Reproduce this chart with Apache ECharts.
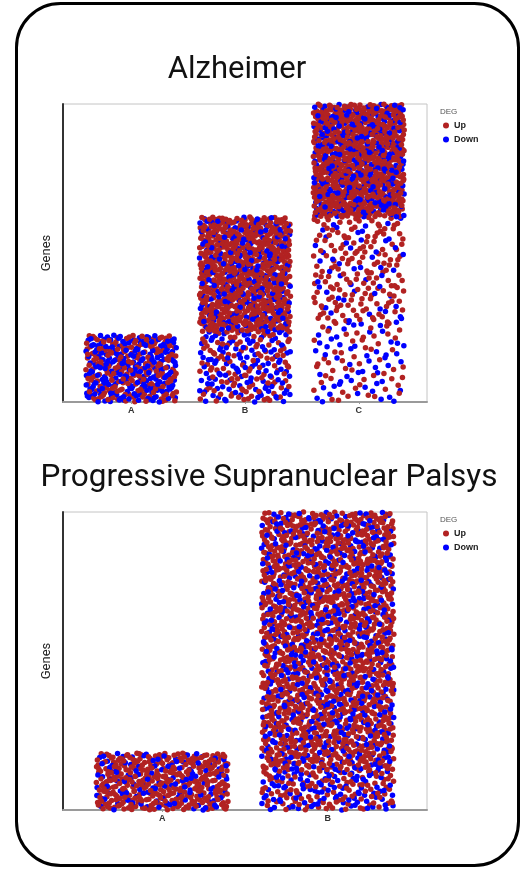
<!DOCTYPE html>
<html>
<head>
<meta charset="utf-8">
<script src="https://cdn.jsdelivr.net/npm/echarts@6/dist/echarts.min.js"></script>
<style>
html,body{margin:0;padding:0;background:#fff;}
#chart{width:523px;height:874px;}
</style>
</head>
<body>
<div id="chart"></div>
<script>
// ---- Data ----
// Titles / labels
const titles = ['Alzheimer', 'Progressive Supranuclear Palsys'];
const alzCategories = ['A', 'B', 'C'];
const pspCategories = ['A', 'B'];
const degLevels = ['Up', 'Down'];
// Each band: [yLow, yHigh, nUp, nDown]  (y in "Genes" units, 0..298 full axis)
const alzA = [[0, 67, 190, 210]];
const alzB = [[0, 70, 110, 115], [70, 185, 620, 180]];
const alzC = [[0, 80, 55, 55], [80, 185, 160, 50], [185, 298, 620, 230]];
const pspA = [[0, 57, 360, 120]];
const pspB = [[0, 40, 110, 100], [40, 298, 1350, 550]];
const yMax = 298;
const jitterWidth = 0.4;

const colUp = '#b22222', colDown = '#0000ff';

// deterministic low-discrepancy placement of jittered points inside each band
function halton(i, b) { let f = 1, r = 0; while (i > 0) { f /= b; r += f * (i % b); i = Math.floor(i / b); } return r; }
function buildPoints(groups) {
  const pts = [];
  let offset = 17;
  groups.forEach((bands, gi) => {
    const cx = gi + 1;
    bands.forEach(([lo, hi, nUp, nDown]) => {
      const n = nUp + nDown;
      for (let k = 0; k < n; k++) {
        const idx = offset + k;
        const x = cx + (halton(idx, 2) * 2 - 1) * jitterWidth;
        const y = lo + halton(idx, 3) * (hi - lo);
        const up = halton(idx, 5) < nUp / n;
        pts.push({ value: [x, y], itemStyle: { color: up ? colUp : colDown } });
      }
      offset += n + 131;
    });
  });
  return pts;
}
const alzPoints = buildPoints([alzA, alzB, alzC]);
const pspPoints = buildPoints([pspA, pspB]);

const chart = echarts.init(document.getElementById('chart'), null, { renderer: 'canvas' });

function xAxisFor(gridIndex, cats) {
  return {
    type: 'value', gridIndex, min: 0.4, max: cats.length + 0.6, interval: 1,
    splitLine: { show: false },
    axisLine: { show: true, onZero: false, lineStyle: { color: '#9a9a9a', width: 2 } },
    axisTick: { show: true, length: 2, lineStyle: { color: '#9a9a9a' }, customValues: cats.map((c, i) => i + 1) },
    axisLabel: {
      show: true, margin: 4, fontSize: 9, fontWeight: 'bold', color: '#333', fontFamily: 'Liberation Sans',
      customValues: cats.map((c, i) => i + 1),
      formatter: v => cats[Math.round(v) - 1] || ''
    }
  };
}
function yAxisFor(gridIndex) {
  return {
    type: 'value', gridIndex, min: 0, max: yMax,
    name: 'Genes', nameLocation: 'middle', nameGap: 10, nameRotate: 90,
    nameTextStyle: { fontSize: 13, color: '#222', fontFamily: 'Roboto' },
    splitLine: { show: false }, axisTick: { show: false }, axisLabel: { show: false },
    axisLine: { show: true, lineStyle: { color: '#333', width: 2 } }
  };
}

const legendText = { fontSize: 9, fontWeight: 'bold', color: '#222', fontFamily: 'Liberation Sans' };
const option = {
  backgroundColor: '#fff',
  animation: false,
  grid: [
    { left: 63, top: 104, width: 364, height: 298, show: true, borderColor: '#c4c4c4', borderWidth: 1 },
    { left: 63, top: 512, width: 364, height: 298, show: true, borderColor: '#c4c4c4', borderWidth: 1 }
  ],
  xAxis: [xAxisFor(0, alzCategories), xAxisFor(1, pspCategories)],
  yAxis: [yAxisFor(0), yAxisFor(1)],
  legend: [
    { orient: 'vertical', left: 438, top: 116, itemWidth: 6, itemHeight: 6, itemGap: 5, icon: 'circle',
      data: degLevels, textStyle: legendText, selectedMode: false },
    { orient: 'vertical', left: 438, top: 524, itemWidth: 6, itemHeight: 6, itemGap: 5, icon: 'circle',
      data: degLevels, textStyle: legendText, selectedMode: false }
  ],
  graphic: [
    { type: 'rect', shape: { x: 16.5, y: 3.5, width: 502, height: 862, r: 44 }, style: { fill: 'none', stroke: '#000', lineWidth: 3 }, silent: true, z: 100 },
    { type: 'text', x: 237, y: 70, style: { text: titles[0], fontSize: 31, fontFamily: 'Roboto', fill: '#111', align: 'center', verticalAlign: 'middle' } },
    { type: 'text', x: 269, y: 478, style: { text: titles[1], fontSize: 31.5, fontFamily: 'Roboto', fill: '#111', align: 'center', verticalAlign: 'middle' } },
    { type: 'text', x: 440, y: 112, style: { text: 'DEG', fontSize: 8, fontFamily: 'Liberation Sans', fill: '#555', verticalAlign: 'middle' } },
    { type: 'text', x: 440, y: 520, style: { text: 'DEG', fontSize: 8, fontFamily: 'Liberation Sans', fill: '#555', verticalAlign: 'middle' } }
  ],
  series: [
    { type: 'scatter', name: 'Up', xAxisIndex: 0, yAxisIndex: 0, data: [], itemStyle: { color: colUp, opacity: 1 } },
    { type: 'scatter', name: 'Down', xAxisIndex: 0, yAxisIndex: 0, data: [], itemStyle: { color: colDown, opacity: 1 } },
    { type: 'scatter', name: 'Alzheimer', xAxisIndex: 0, yAxisIndex: 0, data: alzPoints, symbolSize: 5.5, clip: true, itemStyle: { opacity: 1 } },
    { type: 'scatter', name: 'PSP', xAxisIndex: 1, yAxisIndex: 1, data: pspPoints, symbolSize: 5.5, clip: true, itemStyle: { opacity: 1 } }
  ]
};
chart.setOption(option);
</script>
</body>
</html>
